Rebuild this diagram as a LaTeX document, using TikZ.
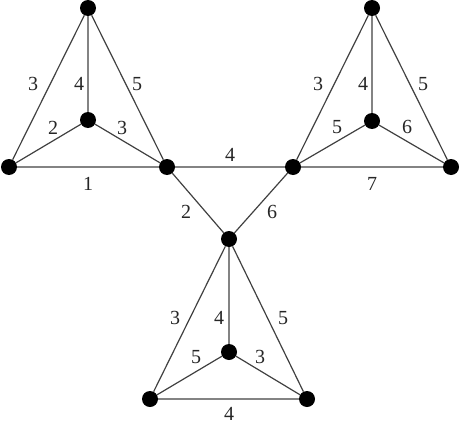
\documentclass[tikz,border=0pt]{standalone}
\usepackage{fontspec}
\setmainfont{Liberation Serif}
\begin{document}
\begin{tikzpicture}[x=1pt,y=-1pt,
  vtx/.style={circle,fill=black,inner sep=0pt,minimum size=16pt},
  edge/.style={draw=black!75,line width=1.2pt},
  lbl/.style={font=\fontsize{20}{20}\selectfont,text=black!85,inner sep=0pt}]
\useasboundingbox (0,0) rectangle (460,428);
% left triangle
\node[vtx] (LT) at (88,8) {};
\node[vtx] (LL) at (9,167) {};
\node[vtx] (LR) at (167,167) {};
\node[vtx] (LC) at (88,120) {};
% right triangle
\node[vtx] (RT) at (372,8) {};
\node[vtx] (RL) at (293,167) {};
\node[vtx] (RR) at (451,167) {};
\node[vtx] (RC) at (372,121) {};
% bottom triangle
\node[vtx] (BT) at (229,239) {};
\node[vtx] (BL) at (150,399) {};
\node[vtx] (BR) at (307,399) {};
\node[vtx] (BC) at (229,352) {};
\begin{scope}[on background layer/.try]
\draw[edge] (LT) -- (LL) (LT) -- (LR) (LT) -- (LC) (LL) -- (LR) (LL) -- (LC) (LR) -- (LC);
\draw[edge] (RT) -- (RL) (RT) -- (RR) (RT) -- (RC) (RL) -- (RR) (RL) -- (RC) (RR) -- (RC);
\draw[edge] (BT) -- (BL) (BT) -- (BR) (BT) -- (BC) (BL) -- (BR) (BL) -- (BC) (BR) -- (BC);
\draw[edge] (LR) -- (RL) (LR) -- (BT) (RL) -- (BT);
\end{scope}
% labels left
\node[lbl] (l1) at (33,84) {3};
\node[lbl] (l2) at (79,84) {4};
\node[lbl] (l3) at (137,84) {5};
\node[lbl] (l4) at (53,128) {2};
\node[lbl] (l5) at (122,128) {3};
\node[lbl] (l6) at (88,184) {1};
% connecting labels
\node[lbl] (c1) at (230,155) {4};
\node[lbl] (c2) at (186,212) {2};
\node[lbl] (c3) at (272,212) {6};
% labels right
\node[lbl] (r1) at (318,84) {3};
\node[lbl] (r2) at (363,84) {4};
\node[lbl] (r3) at (423,84) {5};
\node[lbl] (r4) at (337,127) {5};
\node[lbl] (r5) at (407,127) {6};
\node[lbl] (r6) at (372,184) {7};
% labels bottom
\node[lbl] (b1) at (175,318) {3};
\node[lbl] (b2) at (219,318) {4};
\node[lbl] (b3) at (283,318) {5};
\node[lbl] (b4) at (196,357) {5};
\node[lbl] (b5) at (260,357) {3};
\node[lbl] (b6) at (229,414) {4};
\end{tikzpicture}
\end{document}
